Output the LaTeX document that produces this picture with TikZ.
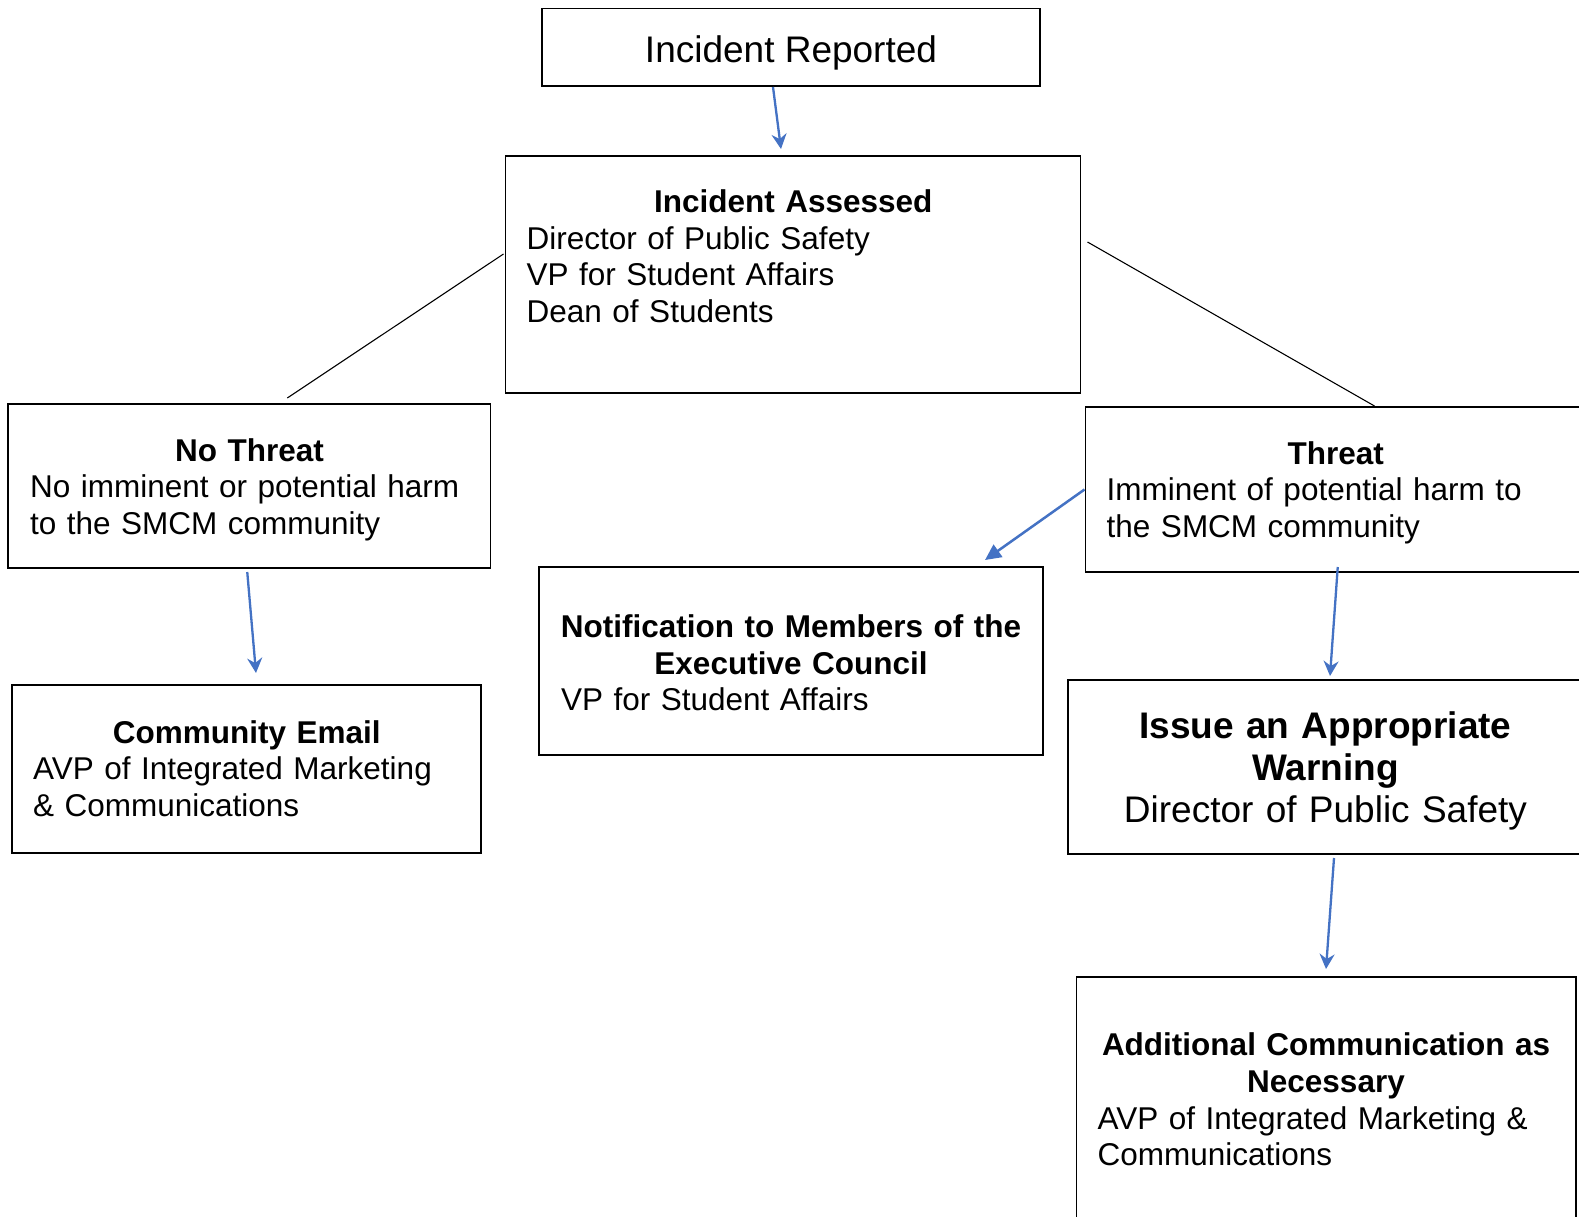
\documentclass[tikz,border=0pt]{standalone}
\usepackage{fontspec}
\setmainfont{Liberation Sans}
\usetikzlibrary{arrows.meta}
\definecolor{arrblue}{HTML}{4472C4}
\newcommand{\ttl}[1]{\makebox[\linewidth][c]{\bfseries #1}}
\begin{document}
\begin{tikzpicture}[x=1pt,y=1pt,
  boxst/.style={draw=black, line width=1.8pt, inner sep=0pt, outer sep=0pt, anchor=north west},
  txt/.style={anchor=base west, inner sep=0pt, outer sep=0pt, font=\fontsize{31.5}{36.6}\selectfont, align=left},
  bigtxt/.style={anchor=base, inner sep=0pt, outer sep=0pt, font=\fontsize{37}{42.4}\selectfont, align=center},
  arr/.style={draw=arrblue, line width=2.3pt, -{Stealth[length=15pt,width=15pt,inset=5pt]}},
  bigarr/.style={draw=arrblue, line width=2.5pt, -{Triangle[length=16pt,width=15pt]}},
  thin/.style={draw=black, line width=1.1pt}
]
\useasboundingbox (0,0) rectangle (1579,-1217);
\clip (0,0) rectangle (1579,-1217);
\fill[white] (0,0) rectangle (1579,-1217);

% boxes
\node[boxst, minimum width=498pt, minimum height=77.5pt] (b1) at (542,-8.5) {};
\node[boxst, minimum width=575pt, minimum height=237pt] (b2) at (505.5,-156) {};
\node[boxst, minimum width=482.5pt, minimum height=164pt] (b3) at (8,-404) {};
\node[boxst, minimum width=469pt, minimum height=168pt] (b4) at (12,-685) {};
\node[boxst, minimum width=504pt, minimum height=188pt] (b5) at (539,-567) {};
\node[boxst, minimum width=500.5pt, minimum height=165pt] (b6) at (1085.5,-407) {};
\node[boxst, minimum width=515pt, minimum height=174pt] (b7) at (1068,-680) {};
\node[boxst, minimum width=499.5pt, minimum height=260pt] (b8) at (1076.5,-977) {};

% texts
\node[bigtxt] (t1) at (791,-62.7) {Incident Reported};
\node[txt, text width=533pt] (t2) at (526.7,-212.7)
  {\ttl{Incident Assessed}\\Director of Public Safety\\VP for Student Affairs\\Dean of Students};
\node[txt, text width=438.5pt] (t3) at (30.2,-461)
  {\ttl{No Threat}\\No imminent or potential harm\\to the SMCM community};
\node[txt, text width=427pt] (t4) at (33.2,-743.3)
  {\ttl{Community Email}\\AVP of Integrated Marketing\\\& Communications};
\node[txt, text width=460pt] (t5) at (561,-637.5)
  {\ttl{Notification to Members of the}\\\ttl{Executive Council}\\VP for Student Affairs};
\node[txt, text width=458.2pt] (t6) at (1106.7,-464)
  {\ttl{Threat}\\Imminent of potential harm to\\the SMCM community};
\node[bigtxt, text width=480pt] (t7) at (1325.5,-738)
  {\textbf{Issue an Appropriate}\\\textbf{Warning}\\Director of Public Safety};
\node[txt, text width=456.8pt] (t8) at (1097.6,-1055.8)
  {\ttl{Additional Communication as}\\\ttl{Necessary}\\AVP of Integrated Marketing \&\\Communications};

% connector end points
\coordinate (a1s) at ([shift={(-18,-1)}]b1.south);
\coordinate (a1e) at ([shift={(-12,7)}]b2.north);
\coordinate (l1s) at ([shift={(-2,20.5)}]b2.west);
\coordinate (l1e) at ([shift={(38,6)}]b3.north);
\coordinate (l2s) at ([shift={(7,32.5)}]b2.east);
\coordinate (l2e) at ([shift={(38.75,1)}]b6.north);
\coordinate (a2s) at ([shift={(-2,-4)}]b3.south);
\coordinate (a2e) at ([shift={(9.5,12)}]b4.north);
\coordinate (a3s) at ([shift={(-1,0)}]b6.west);
\coordinate (a3e) at ([shift={(-58,7)}]b5.north east);
\coordinate (a4s) at ([shift={(2,5)}]b6.south);
\coordinate (a4e) at ([shift={(4.5,4)}]b7.north);
\coordinate (a5s) at ([shift={(8.5,-4)}]b7.south);
\coordinate (a5e) at ([shift={(-0.25,8)}]b8.north);

% connectors
\draw[arr] (a1s) -- (a1e);
\draw[thin] (l1s) -- (l1e);
\draw[thin] (l2s) -- (l2e);
\draw[arr] (a2s) -- (a2e);
\draw[bigarr] (a3s) -- (a3e);
\draw[arr] (a4s) -- (a4e);
\draw[arr] (a5s) -- (a5e);
\end{tikzpicture}
\end{document}
